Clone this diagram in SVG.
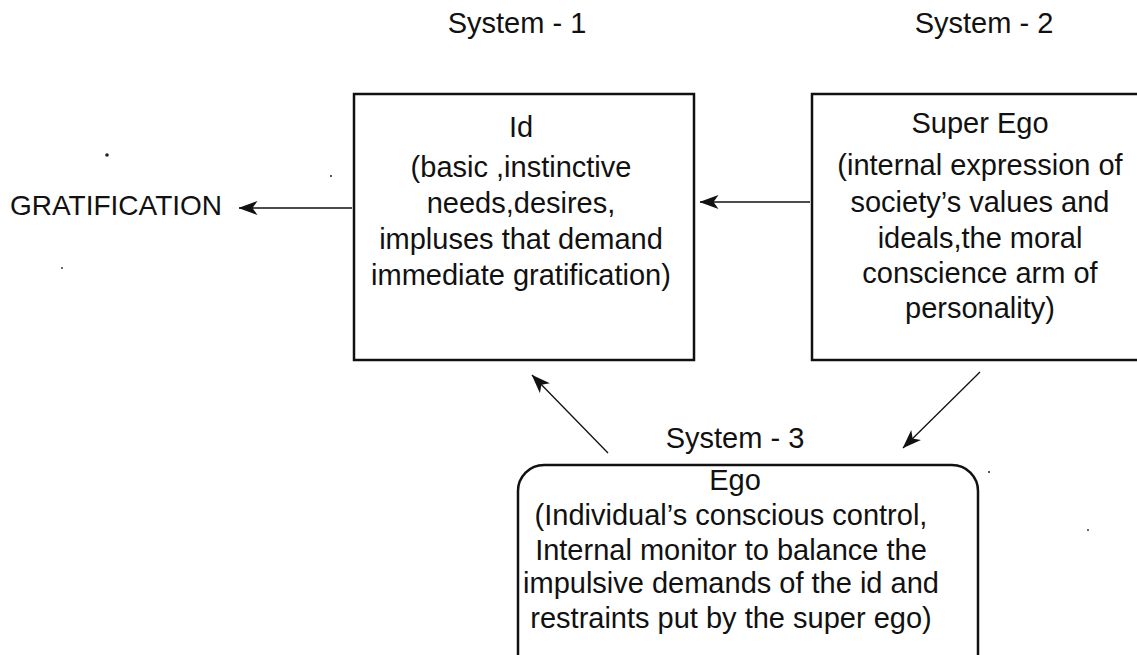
<svg xmlns="http://www.w3.org/2000/svg" width="1137" height="655" viewBox="0 0 1137 655">
  <defs>
    <style>
      .box { fill: #fff; stroke: #111; stroke-width: 2.5; }
      .edge { fill: none; stroke: #111; stroke-width: 1.3; }
      .lbl { font-family: "Liberation Sans", Arial, sans-serif; font-size: 29px; fill: #111; text-anchor: middle; }
      .dot { fill: #222; }
    </style>
    <marker id="arrow" viewBox="0 0 19 14" refX="18.5" refY="7" markerWidth="19" markerHeight="14" markerUnits="userSpaceOnUse" orient="auto">
      <path d="M0,0 L19,7 L0,14 L5,7 Z" fill="#111"/>
    </marker>
  </defs>

  <rect width="1137" height="655" fill="#fff"/>

  <!-- System headings -->
  <text class="lbl" x="517" y="33">System - 1</text>
  <text class="lbl" x="984" y="33">System - 2</text>
  <text class="lbl" x="735" y="448">System - 3</text>

  <g id="gratification">
    <text class="lbl" x="116" y="215" style="font-size:28px">GRATIFICATION</text>
  </g>

  <g id="id-node">
    <rect class="box" x="354" y="94" width="340" height="266"/>
    <text class="lbl" x="521" y="137">Id</text>
    <text class="lbl" x="521" y="177">(basic ,instinctive</text>
    <text class="lbl" x="521" y="213">needs,desires,</text>
    <text class="lbl" x="521" y="249">impluses that demand</text>
    <text class="lbl" x="521" y="285">immediate gratification)</text>
  </g>

  <g id="superego-node">
    <rect class="box" x="812" y="94" width="340" height="266"/>
    <text class="lbl" x="980" y="133">Super Ego</text>
    <text class="lbl" x="980" y="175">(internal expression of</text>
    <text class="lbl" x="980" y="212">society’s values and</text>
    <text class="lbl" x="980" y="248">ideals,the moral</text>
    <text class="lbl" x="980" y="283">conscience arm of</text>
    <text class="lbl" x="980" y="318">personality)</text>
  </g>

  <g id="ego-node">
    <rect class="box" x="518" y="465" width="460" height="230" rx="26" ry="26"/>
    <text class="lbl" x="735" y="490">Ego</text>
    <text class="lbl" x="731" y="525">(Individual’s conscious control,</text>
    <text class="lbl" x="731" y="560">Internal monitor to balance the</text>
    <text class="lbl" x="731" y="593">impulsive demands of the id and</text>
    <text class="lbl" x="731" y="628">restraints put by the super ego)</text>
  </g>

  <g id="connectors">
    <line class="edge" x1="352" y1="208" x2="239" y2="208" marker-end="url(#arrow)"/>
    <line class="edge" x1="810" y1="202" x2="700" y2="202" marker-end="url(#arrow)"/>
    <line class="edge" x1="608" y1="453" x2="532" y2="375" marker-end="url(#arrow)"/>
    <line class="edge" x1="980" y1="372" x2="903" y2="448" marker-end="url(#arrow)"/>
  </g>

  <!-- specks -->
  <circle class="dot" cx="107" cy="155" r="1.8"/>
  <circle class="dot" cx="331" cy="176" r="1"/>
  <circle class="dot" cx="62" cy="268" r="0.9"/>
  <circle class="dot" cx="989" cy="472" r="1"/>
  <circle class="dot" cx="1088" cy="530" r="0.9"/>
</svg>
